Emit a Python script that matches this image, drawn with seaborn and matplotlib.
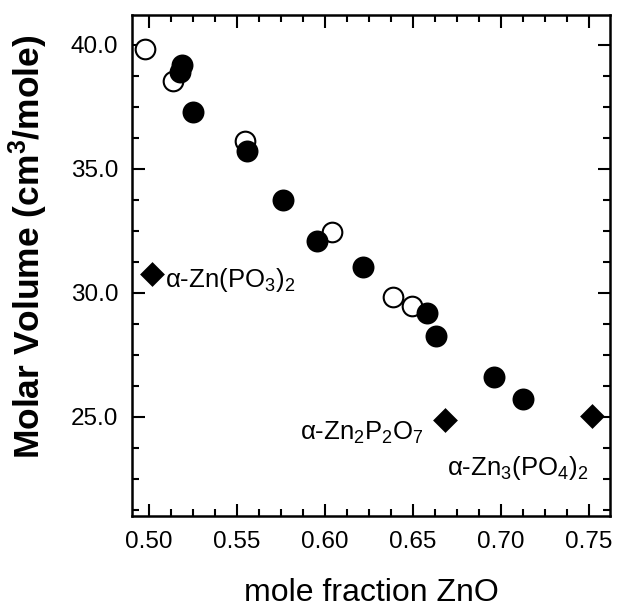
import numpy as np
import pandas as pd
import seaborn as sns
import matplotlib
matplotlib.use("Agg")
import matplotlib.pyplot as plt
from matplotlib.ticker import MultipleLocator, AutoMinorLocator, FormatStrFormatter

# glass data (open circles)
open_x = [0.4977, 0.5136, 0.5545, 0.604, 0.6386, 0.6494]
open_y = [39.80, 38.51, 36.09, 32.46, 29.84, 29.44]

# glass data (filled circles)
filled_x = [0.5190, 0.5175, 0.525, 0.5557, 0.5761, 0.5955, 0.6216, 0.658, 0.663, 0.696, 0.7125]
filled_y = [39.17, 38.91, 37.26, 35.69, 33.75, 32.06, 31.01, 29.19, 28.23, 26.60, 25.69]

# crystalline phases (diamonds)
cryst_x = [0.5017, 0.668, 0.7517]
cryst_y = [30.73, 24.88, 25.04]
cryst_names = [r"α-Zn(PO$_3$)$_2$", r"α-Zn$_2$P$_2$O$_7$", r"α-Zn$_3$(PO$_4$)$_2$"]
name_x = [0.5091, 0.5858, 0.6693]
name_y = [30.22, 24.05, 22.64]

sns.set_theme(style="ticks")
plt.rcParams['font.family'] = ['Liberation Sans', 'DejaVu Sans']
plt.rcParams['mathtext.fontset'] = 'custom'
plt.rcParams['mathtext.rm'] = 'Liberation Sans'
plt.rcParams['mathtext.it'] = 'Liberation Sans'
plt.rcParams['mathtext.default'] = 'regular'
for k in ['text.color', 'axes.labelcolor', 'xtick.color', 'ytick.color', 'axes.edgecolor']:
    plt.rcParams[k] = 'black'

df_open = pd.DataFrame({'x': open_x, 'y': open_y})
df_filled = pd.DataFrame({'x': filled_x, 'y': filled_y})
df_cryst = pd.DataFrame({'x': cryst_x, 'y': cryst_y})

fig = plt.figure(figsize=(6.18, 6.09), dpi=100)
ax = fig.add_axes([132/618, 1-516/609, 478/618, 501/609])

sns.scatterplot(data=df_open, x='x', y='y', ax=ax, marker='o', s=200,
                facecolor='white', edgecolor='black', linewidth=1.5, zorder=3)
sns.scatterplot(data=df_filled, x='x', y='y', ax=ax, marker='o', s=250,
                color='black', edgecolor='black', linewidth=0, zorder=4)
sns.scatterplot(data=df_cryst, x='x', y='y', ax=ax, marker='D', s=160,
                color='black', edgecolor='black', linewidth=0, zorder=4)

for nx, ny, name in zip(name_x, name_y, cryst_names):
    ax.text(nx, ny, name, fontsize=18.5, ha='left', va='baseline', color='black')

ax.set_xlim(0.4903, 0.762)
ax.set_ylim(20.99, 41.19)
ax.xaxis.set_major_locator(MultipleLocator(0.05))
ax.xaxis.set_minor_locator(AutoMinorLocator(4))
ax.yaxis.set_major_locator(MultipleLocator(5))
ax.yaxis.set_minor_locator(AutoMinorLocator(4))
ax.xaxis.set_major_formatter(FormatStrFormatter('%.2f'))
ax.yaxis.set_major_formatter(FormatStrFormatter('%.1f'))

ax.tick_params(which='both', direction='in', top=True, right=True, color='black', width=1.5)
ax.tick_params(which='major', length=9, labelsize=17.5)
ax.tick_params(which='minor', length=5)
ax.tick_params(axis='x', which='major', pad=11)
ax.tick_params(axis='y', which='major', pad=10)
for sp in ax.spines.values():
    sp.set_linewidth(1.8)
    sp.set_color('black')

ax.set_xlabel('mole fraction ZnO', fontsize=23)
ax.set_ylabel('Molar Volume (cm$^3$/mole)', fontsize=25.5, fontweight='bold')
ax.xaxis.label.set_va('baseline')
ax.xaxis.set_label_coords(0.5, (516 - 601) / 501)
ax.yaxis.set_label_coords(-0.172, 0.537)

fig.savefig('out.png', dpi=100, facecolor='white')
